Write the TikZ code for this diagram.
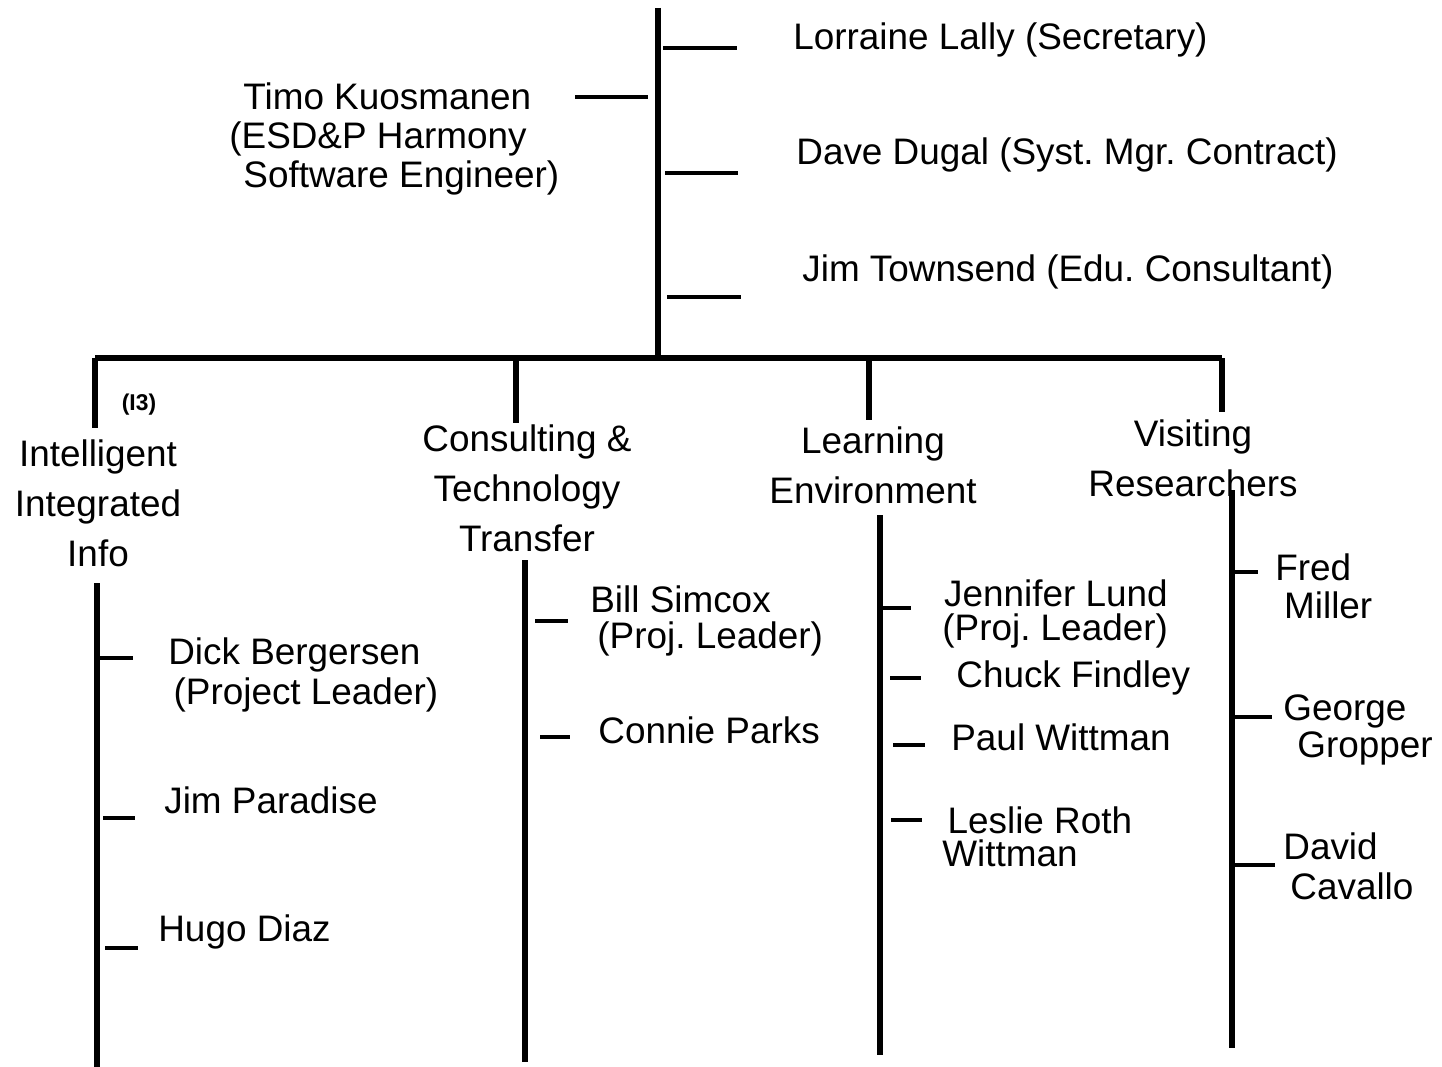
\documentclass[tikz,border=0pt]{standalone}
\usepackage{fontspec}
\setmainfont{Liberation Sans}
\usetikzlibrary{positioning}
\frenchspacing

\begin{document}
\begin{tikzpicture}[x=0.02cm,y=-0.02cm,
  trunk/.style={line width=3.6pt},
  twig/.style={line width=2.8pt},
  person/.style={font=\fontsize{21}{#1}\selectfont,inner sep=0pt,anchor=west,align=left},
  person/.default=22.8,
  head/.style={font=\fontsize{21}{28.5}\selectfont,inner sep=0pt,align=center},
  tag/.style={font=\fontsize{13}{15}\selectfont\bfseries,inner sep=0pt}
]
\useasboundingbox (0,0) rectangle (1442,1067);

% main trunk and bar
\coordinate (top) at (658,8);
\coordinate (hub) at (658,358);
\coordinate (barL) at (95,358);
\coordinate (barR) at (1222,358);
\coordinate (b2) at (516,358);
\coordinate (b3) at (869,358);
\draw[trunk] (top) -- (hub);
\draw[trunk] (barL) -- (barR);

% staff off the trunk
\node[person] (lally) at (793,40) {Lorraine Lally (Secretary)};
\node[person] (dugal) at (796,155) {Dave Dugal (Syst. Mgr. Contract)};
\node[person] (townsend) at (802,272) {Jim Townsend (Edu. Consultant)};
\node[person=22.4] (timo) at (229,139)
  {\hspace*{8pt}Timo Kuosmanen\\(ESD\&P Harmony\\\hspace*{8pt}Software Engineer)};

% group heads
\node[tag] (i3tag) at (139,405) {(I3)};
\node[head] (i3) at (98,503) {Intelligent\\Integrated\\Info};
\node[head] (ctt) at (527,488) {Consulting \&\\Technology\\Transfer};
\node[head] (learn) at (873,465) {Learning\\Environment};
\node[head] (visit) at (1193,458) {Visiting\\Researchers};

% drops from the bar
\coordinate (d1) at (95,428);
\coordinate (d2) at (516,423);
\coordinate (d3) at (869,420);
\coordinate (d4) at (1222,412);
\draw[trunk] (barL) -- (d1);
\draw[trunk] (b2) -- (d2);
\draw[trunk] (b3) -- (d3);
\draw[trunk] (barR) -- (d4);

% column lines
\coordinate (c1t) at (97,583);  \coordinate (c1b) at (97,1067);
\coordinate (c2t) at (525,560); \coordinate (c2b) at (525,1062);
\coordinate (c3t) at (880,515); \coordinate (c3b) at (880,1055);
\coordinate (c4t) at (1232,490); \coordinate (c4b) at (1232,1048);
\foreach \c in {c1,c2,c3,c4}
  \draw[trunk] (\c t) -- (\c b);

% ticks: x / y / length
\foreach \x/\y/\len in {
  663/48/74, 665/173/73, 667/297/74, 575/97/73,
  100/658/33, 103/818/32, 105/948/33,
  535/621/33, 540/737/30,
  878/608/33, 890/678/31, 893/745/32, 891/820/31,
  1232/572/26, 1232/717/40, 1235/865/40
} \draw[twig] (\x,\y) -- ++(\len,0);

% Intelligent Integrated Info
\node[person=22.8] (dick) at (168,675) {Dick Bergersen\\\hspace*{3pt}(Project Leader)};
\node[person] (jim) at (164,800) {Jim Paradise};
\node[person] (hugo) at (158,932) {Hugo Diaz};

% Consulting & Technology Transfer
\node[person=20.5] (bill) at (590,621) {Bill Simcox\\\hspace*{4pt}(Proj. Leader)};
\node[person] (connie) at (598,730) {Connie Parks};

% Learning Environment
\node[person=19.5] (jen) at (942,614) {\hspace*{1pt}Jennifer Lund\\(Proj. Leader)};
\node[person] (chuck) at (956,678) {Chuck Findley};
\node[person] (paul) at (951,737) {Paul Wittman};
\node[person=19] (leslie) at (942,837) {\hspace*{3pt}Leslie Roth\\Wittman};

% Visiting Researchers
\node[person=21.6] (fred) at (1275,586) {Fred\\\hspace*{5pt}Miller};
\node[person=21.1] (george) at (1283,730) {George\\\hspace*{8pt}Gropper};
\node[person=22.8] (david) at (1283,866) {David\\\hspace*{4pt}Cavallo};
\end{tikzpicture}
\end{document}
